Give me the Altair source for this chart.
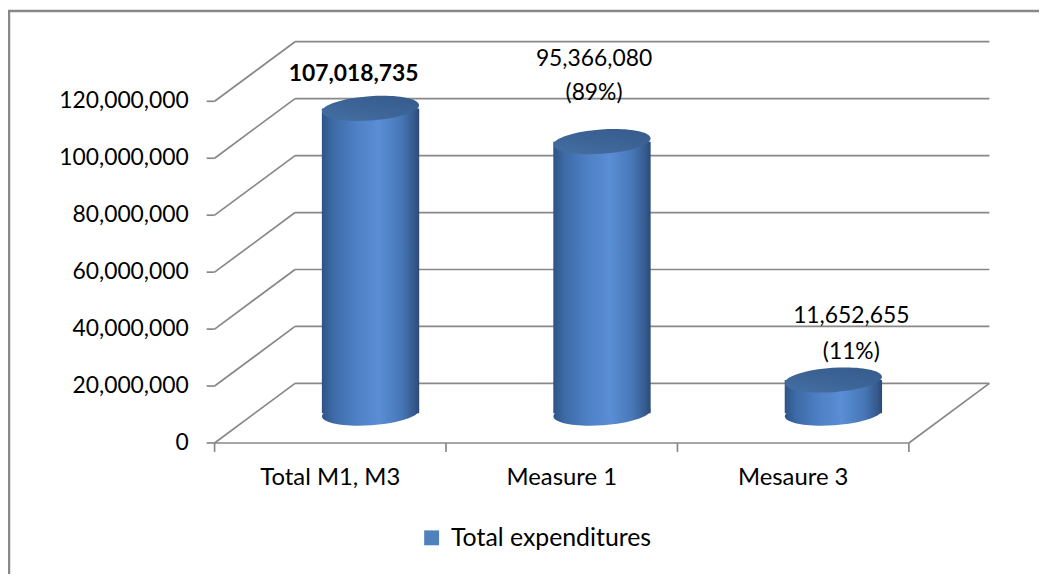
import altair as alt
import pandas as pd

# ---------------- data ----------------
categories = ["Total M1, M3", "Measure 1", "Mesaure 3"]
values = [107018735, 95366080, 11652655]
value_labels = [["107,018,735"], ["95,366,080", "(89%)"], ["11,652,655", "(11%)"]]
grid_values = [0, 20000000, 40000000, 60000000, 80000000, 100000000, 120000000]
grid_labels = ["0", "20,000,000", "40,000,000", "60,000,000", "80,000,000",
               "100,000,000", "120,000,000"]
series_name = "Total expenditures"

# ---------------- geometry / style ----------------
W, H = 1038, 568
OX, OY = 8, 8
UNIT = 233.0                      # px per category slot
X0 = 216 - OX                     # front-left corner of floor
Y0 = 444 - OY                     # value 0 on the front plane
YTOP = 100 - OY                   # value 120M on the front plane
VMAX = 120000000
DX = 81 / UNIT                    # depth offset (category units)
DY = 60 / (Y0 - YTOP) * VMAX      # depth offset (value units)
PXV = VMAX / (Y0 - YTOP)          # value per px
CYL_W = 98 / UNIT
FONT = "Lato"
FS = 23
GRID = "#888888"

xs = alt.Scale(domain=[0, 3], range=[X0, X0 + 3 * UNIT], zero=False, nice=False)
ys = alt.Scale(domain=[0, VMAX], range=[Y0, YTOP], zero=False, nice=False)


def X(f):
    return alt.X(f"{f}:Q", scale=xs, axis=None)


def Y(f):
    return alt.Y(f"{f}:Q", scale=ys, axis=None)


# grid lines (side wall diagonals + back wall horizontals)
grid_rows = []
for g in grid_values:
    grid_rows.append(dict(x=0, y=g, x2=DX, y2=g + DY))
    grid_rows.append(dict(x=DX, y=g + DY, x2=3 + DX, y2=g + DY))
# floor front edge and right edge
grid_rows.append(dict(x=0, y=0, x2=3, y2=0))
grid_rows.append(dict(x=3, y=0, x2=3 + DX, y2=DY))
# category ticks below the floor
for i in range(4):
    grid_rows.append(dict(x=i, y=0, x2=i, y2=-9 * PXV))
# value ticks on the left
for g in grid_values:
    grid_rows.append(dict(x=-8 / UNIT, y=g, x2=0, y2=g))
grid_df = pd.DataFrame(grid_rows)

lines = alt.Chart(grid_df).mark_rule(color=GRID, strokeWidth=1.7).encode(
    x=X("x"), y=Y("y"), x2=alt.X2("x2"), y2=alt.Y2("y2"))

ylab_df = pd.DataFrame({"v": grid_values, "t": grid_labels, "x": [-26 / UNIT] * len(grid_values)})
ylabels = alt.Chart(ylab_df).mark_text(
    align="right", baseline="middle", font=FONT, fontSize=FS, color="#000000"
).encode(x=X("x"), y=Y("v"), text="t:N")

cat_df = pd.DataFrame({"c": categories, "x": [i + 0.5 for i in range(3)],
                       "y": [-35 * PXV] * 3})
xlabels = alt.Chart(cat_df).mark_text(
    align="center", baseline="middle", font=FONT, fontSize=24, color="#000000"
).encode(x=X("x"), y=Y("y"), text="c:N")

# cylinders
cx = [i + 0.5 + DX / 2 for i in range(3)]
cyl_df = pd.DataFrame({
    "category": categories,
    "value": values,
    "cx": cx,
    "left": [c - CYL_W / 2 for c in cx],
    "right": [c + CYL_W / 2 for c in cx],
    "base": [DY / 2] * 3,
    "top": [v + DY / 2 for v in values],
    "label": ["\n".join(l) for l in value_labels],
})

body_grad = alt.LinearGradient(
    gradient="linear", x1=0, x2=1, y1=0, y2=0,
    stops=[
        alt.GradientStop(offset=0.0, color="#2e5486"),
        alt.GradientStop(offset=0.12, color="#3e6ba8"),
        alt.GradientStop(offset=0.35, color="#4d80c4"),
        alt.GradientStop(offset=0.58, color="#5a8ed5"),
        alt.GradientStop(offset=0.82, color="#4676b6"),
        alt.GradientStop(offset=0.95, color="#35598c"),
        alt.GradientStop(offset=1.0, color="#2c4a77"),
    ])
top_grad = alt.LinearGradient(
    gradient="linear", x1=0, x2=1, y1=1, y2=0,
    stops=[
        alt.GradientStop(offset=0.0, color="#4670a6"),
        alt.GradientStop(offset=0.5, color="#3c6496"),
        alt.GradientStop(offset=1.0, color="#355a8a"),
    ])

ELLIPSE = "M -1 0 A 1 0.25 0 1 0 1 0 A 1 0.25 0 1 0 -1 0 Z"
ESIZE = 98 ** 2

bottom = alt.Chart(cyl_df).mark_point(
    shape=ELLIPSE, size=ESIZE, filled=True, fill=body_grad, opacity=1,
    strokeWidth=0, angle=356
).encode(x=X("cx"), y=Y("base"))

body = alt.Chart(cyl_df).mark_rect(fill=body_grad, strokeWidth=0).encode(
    x=X("left"), x2=alt.X2("right"), y=Y("base"), y2=alt.Y2("top"))

top = alt.Chart(cyl_df).mark_point(
    shape=ELLIPSE, size=ESIZE, filled=True, fill=top_grad, opacity=1,
    strokeWidth=0, angle=356
).encode(x=X("cx"), y=Y("top"))

# data labels (dy places the first line)
label_style = [
    dict(dx=-17, dy=-35, fontWeight="bold", lineHeight=34),
    dict(dx=-8, dy=-83, fontWeight="normal", lineHeight=34),
    dict(dx=18, dy=-64, fontWeight="normal", lineHeight=36),
]
label_layers = []
for i, st in enumerate(label_style):
    label_layers.append(
        alt.Chart(cyl_df.iloc[i:i + 1]).mark_text(
            align="center", baseline="middle", font=FONT, fontSize=FS,
            color="#000000", lineBreak="\n", **st
        ).encode(x=X("cx"), y=Y("top"), text="label:N")
    )

# legend
leg_df = pd.DataFrame({"series": [series_name], "x": [0.0], "y": [0.0]})
legend_layer = alt.Chart(leg_df).mark_square(size=1, opacity=0).encode(
    x=X("x"), y=Y("y"),
    color=alt.Color("series:N", scale=alt.Scale(range=["#4f81bd"]),
                    legend=alt.Legend(
                        orient="none", legendX=414, legendY=519, title=None,
                        symbolType="square", symbolSize=225, symbolOpacity=1,
                        symbolStrokeWidth=0, symbolFillColor="#4f81bd",
                        labelFont=FONT, labelFontSize=25, labelColor="#000000",
                        labelOffset=7, labelLimit=0, padding=0)))

# frame (left and top border of the chart area)
frame_left = alt.Chart(leg_df).mark_rule(color="#888888", strokeWidth=2.5).encode(
    x=alt.value(1), y=alt.value(0), y2=alt.value(H))
frame_top = alt.Chart(leg_df).mark_rule(color="#888888", strokeWidth=2.5).encode(
    x=alt.value(0), x2=alt.value(W), y=alt.value(1))

chart = alt.layer(
    frame_left, frame_top, lines, ylabels, xlabels, bottom, body, top,
    *label_layers, legend_layer
).properties(
    width=W, height=H, padding=0, autosize=alt.AutoSizeParams(type="none"),
    background="white"
).configure_view(stroke=None)

chart.save("out.html", embed_options={"renderer": "svg", "actions": False})
